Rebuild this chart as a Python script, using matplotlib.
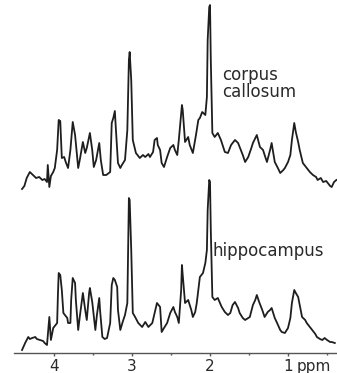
import matplotlib
matplotlib.use("Agg")
import matplotlib.pyplot as plt
from matplotlib.ticker import FixedLocator

# ── Spectra (chemical shift in ppm, intensity in a.u.) ──

cc_ppm = [4.41, 4.38, 4.35, 4.31, 4.27, 4.23, 4.19, 4.15, 4.12, 4.09, 4.08, 4.06,
          4.04, 4.01, 3.99, 3.96, 3.94, 3.92, 3.90, 3.87, 3.85, 3.82, 3.79, 3.76,
          3.73, 3.69, 3.67, 3.63, 3.60, 3.58, 3.54, 3.51, 3.49, 3.46, 3.42, 3.40,
          3.37, 3.33, 3.28, 3.26, 3.24, 3.22, 3.21, 3.18, 3.15, 3.13, 3.09, 3.06,
          3.04, 3.03, 3.01, 2.99, 2.95, 2.90, 2.86, 2.83, 2.79, 2.77, 2.73, 2.71,
          2.68, 2.67, 2.64, 2.62, 2.59, 2.55, 2.51, 2.47, 2.45, 2.42, 2.40, 2.36,
          2.35, 2.32, 2.28, 2.26, 2.22, 2.18, 2.15, 2.13, 2.10, 2.06, 2.04, 2.03,
          2.01, 2.00, 1.99, 1.97, 1.94, 1.90, 1.86, 1.81, 1.77, 1.73, 1.68, 1.64,
          1.62, 1.58, 1.55, 1.51, 1.47, 1.45, 1.40, 1.36, 1.32, 1.30, 1.27, 1.23,
          1.21, 1.17, 1.13, 1.10, 1.06, 1.04, 1.00, 0.97, 0.95, 0.92, 0.90, 0.87,
          0.85, 0.81, 0.78, 0.74, 0.72, 0.68, 0.64, 0.62, 0.58, 0.55, 0.51, 0.49,
          0.46, 0.44, 0.41, 0.38]
cc_int = [1, 4, 12, 18, 15, 12, 13, 10, 11, 8, 25, 3,
          14, 18, 22, 40, 70, 69, 32, 33, 28, 22, 40, 68,
          55, 22, 30, 48, 37, 42, 57, 40, 23, 30, 47, 30,
          15, 15, 18, 67, 72, 79, 65, 27, 22, 25, 30, 60,
          130, 138, 110, 50, 37, 32, 35, 33, 36, 33, 38, 50,
          52, 45, 40, 27, 23, 33, 42, 45, 40, 35, 50, 85,
          80, 48, 53, 45, 37, 55, 70, 72, 78, 75, 93, 150,
          183, 185, 130, 57, 53, 57, 50, 38, 37, 45, 50, 47,
          43, 35, 28, 33, 42, 47, 55, 43, 40, 35, 28, 40,
          47, 28, 22, 17, 20, 22, 28, 35, 50, 67, 58, 48,
          40, 27, 24, 20, 18, 15, 13, 10, 12, 8, 9, 7,
          4, 3, 8, 10]

hc_ppm = [4.41, 4.37, 4.33, 4.31, 4.28, 4.24, 4.22, 4.18, 4.14, 4.12, 4.09, 4.06,
          4.04, 4.01, 3.99, 3.96, 3.95, 3.94, 3.92, 3.90, 3.88, 3.86, 3.83, 3.82,
          3.79, 3.78, 3.76, 3.73, 3.72, 3.69, 3.67, 3.63, 3.60, 3.58, 3.55, 3.54,
          3.51, 3.47, 3.45, 3.42, 3.41, 3.38, 3.35, 3.32, 3.28, 3.26, 3.24, 3.22,
          3.19, 3.18, 3.15, 3.12, 3.09, 3.06, 3.05, 3.04, 3.03, 3.01, 2.99, 2.96,
          2.92, 2.87, 2.83, 2.79, 2.74, 2.71, 2.68, 2.64, 2.62, 2.59, 2.55, 2.51,
          2.47, 2.45, 2.42, 2.40, 2.37, 2.36, 2.35, 2.32, 2.28, 2.24, 2.22, 2.19,
          2.17, 2.13, 2.09, 2.06, 2.04, 2.03, 2.01, 2.00, 1.99, 1.97, 1.94, 1.90,
          1.85, 1.81, 1.77, 1.74, 1.71, 1.68, 1.64, 1.62, 1.58, 1.55, 1.51, 1.49,
          1.45, 1.42, 1.40, 1.37, 1.33, 1.30, 1.26, 1.23, 1.21, 1.17, 1.14, 1.10,
          1.08, 1.04, 1.00, 0.97, 0.95, 0.92, 0.90, 0.87, 0.85, 0.82, 0.78, 0.76,
          0.72, 0.69, 0.65, 0.63, 0.59, 0.56, 0.53, 0.50, 0.46, 0.44, 0.40]
hc_int = [0, 7, 13, 11, 12, 13, 11, 10, 9, 7, 5, 33,
          10, 22, 24, 27, 55, 77, 75, 60, 37, 35, 32, 27,
          27, 50, 72, 67, 50, 20, 33, 57, 40, 30, 57, 62,
          48, 20, 35, 52, 40, 13, 11, 12, 27, 65, 72, 70,
          63, 40, 20, 28, 35, 47, 100, 152, 150, 100, 37, 33,
          27, 23, 28, 23, 27, 37, 47, 43, 18, 22, 27, 37,
          43, 38, 33, 27, 60, 85, 75, 47, 50, 40, 33, 38,
          47, 73, 77, 87, 100, 140, 170, 168, 120, 53, 50, 52,
          43, 38, 35, 37, 45, 48, 42, 37, 32, 30, 32, 33,
          45, 50, 55, 48, 40, 33, 38, 40, 42, 32, 27, 20,
          18, 17, 22, 32, 47, 60, 57, 53, 45, 33, 30, 27,
          23, 20, 16, 13, 11, 10, 12, 10, 8, 8, 7]

CC_OFFSET = 160          # vertical stacking of the corpus callosum trace
LINE = "#1e1e1e"
AXIS = "#555555"
TXT = "#2a2a2a"

fig = plt.figure(figsize=(3.37, 3.73), dpi=100)
ax = fig.add_axes([14 / 337, 20 / 373, 323 / 337, 353 / 373])

ax.plot(cc_ppm, [v + CC_OFFSET for v in cc_int], color=LINE, lw=1.3,
        solid_joinstyle="round")
ax.plot(hc_ppm, hc_int, color=LINE, lw=1.3, solid_joinstyle="round")

ax.set_xlim(4.513, 0.372)
ax.set_ylim(-3, 350)

for side in ("left", "right", "top"):
    ax.spines[side].set_visible(False)
ax.spines["bottom"].set_color(AXIS)
ax.spines["bottom"].set_linewidth(1.0)
ax.set_yticks([])

ax.xaxis.set_major_locator(FixedLocator([4, 3, 2, 1]))
ax.xaxis.set_minor_locator(FixedLocator([3.5, 2.5, 1.5, 0.5]))
ax.set_xticklabels(["4", "3", "2", "1"])
ax.tick_params(axis="x", which="major", direction="out", length=2.5, width=1.0,
               color=AXIS, pad=1.5, labelsize=11, labelcolor=TXT)
ax.tick_params(axis="x", which="minor", direction="out", length=1.3, width=1.0,
               color=AXIS)

ax.annotate("ppm", xy=(0.885, 0), xycoords=("data", "axes fraction"),
            xytext=(0, -4.0), textcoords="offset points",
            ha="left", va="top", fontsize=11, color=TXT)

ax.text(1.846, 270, "corpus", fontsize=12, color=TXT, ha="left", va="baseline")
ax.text(1.846, 253, "callosum", fontsize=12, color=TXT, ha="left", va="baseline")
ax.text(1.962, 94, "hippocampus", fontsize=12, color=TXT, ha="left", va="baseline")

fig.savefig("out.png", dpi=100, facecolor="white")
